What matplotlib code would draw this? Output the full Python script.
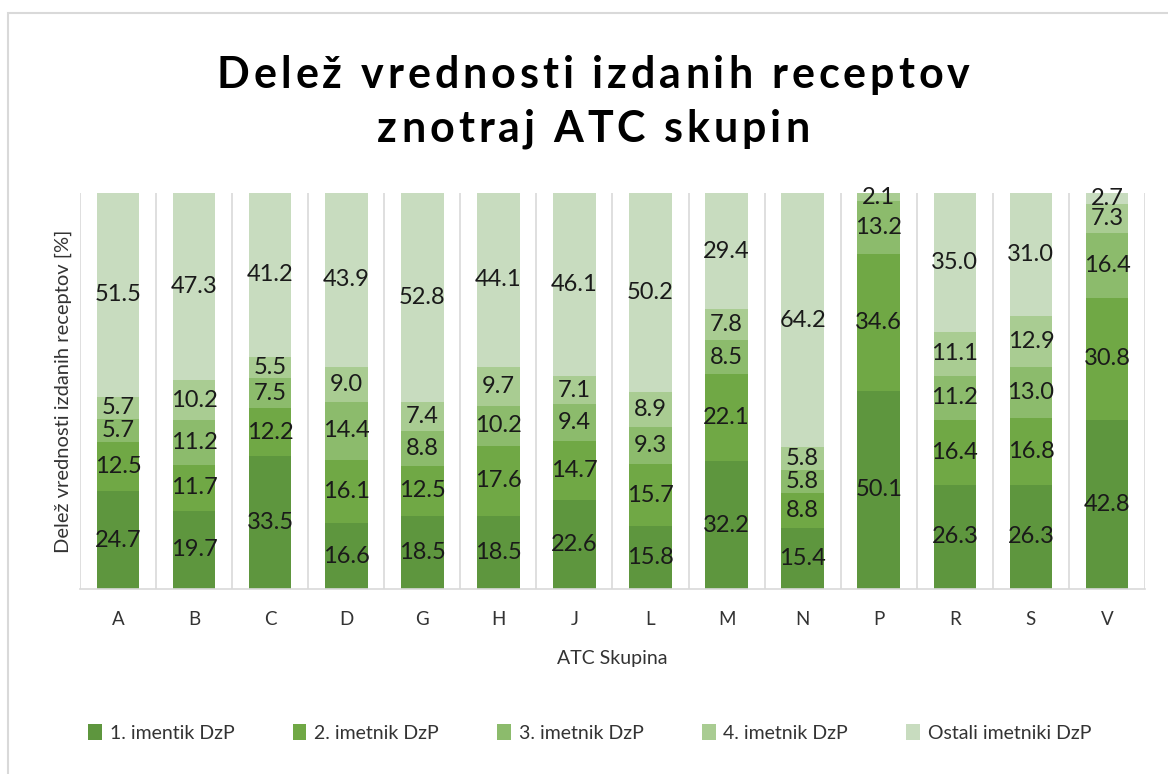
import numpy as np
import matplotlib
matplotlib.use('Agg')
import matplotlib.pyplot as plt
from matplotlib.patches import Rectangle

plt.rcParams['font.family'] = ['Lato', 'DejaVu Sans']

# --- data
groups = ['A', 'B', 'C', 'D', 'G', 'H', 'J', 'L', 'M', 'N', 'P', 'R', 'S', 'V']
holder1 = [24.7, 19.7, 33.5, 16.6, 18.5, 18.5, 22.6, 15.8, 32.2, 15.4, 50.1, 26.3, 26.3, 42.8]
holder2 = [12.5, 11.7, 12.2, 16.1, 12.5, 17.6, 14.7, 15.7, 22.1, 8.8, 34.6, 16.4, 16.8, 30.8]
holder3 = [5.7, 11.2, 7.5, 14.4, 8.8, 10.2, 9.4, 9.3, 8.5, 5.8, 13.2, 11.2, 13.0, 16.4]
holder4 = [5.7, 10.2, 5.5, 9.0, 7.4, 9.7, 7.1, 8.9, 7.8, 5.8, 2.1, 11.1, 12.9, 7.3]
others = [51.5, 47.3, 41.2, 43.9, 52.8, 44.1, 46.1, 50.2, 29.4, 64.2, 0.0, 35.0, 31.0, 2.7]

series = [holder1, holder2, holder3, holder4, others]
names = ['1. imentik DzP', '2. imetnik DzP', '3. imetnik DzP', '4. imetnik DzP', 'Ostali imetniki DzP']
colors = ['#5e963e', '#70a845', '#8cbb6c', '#a9cc92', '#c8dcbf']

title_lines = ['Delež vrednosti izdanih receptov', 'znotraj ATC skupin']


def tracked_text(fig, s, xc, y, track, **kw):
    """ draw a line of text centred on xc (figure coords) with extra letter spacing (px) """
    r = fig.canvas.get_renderer()
    fw = fig.bbox.width
    ref = fig.text(0, 0, '|', **kw)
    w_ref = ref.get_window_extent(r).width
    ref.remove()
    xs = []
    for i in range(len(s) + 1):
        t = fig.text(0, 0, s[:i] + '|', **kw)
        xs.append(t.get_window_extent(r).width - w_ref + i * track)
        t.remove()
    total = xs[-1] - track
    x0 = xc * fw - total / 2
    for ch, xi in zip(s, xs):
        if ch != ' ':
            fig.text((x0 + xi) / fw, y, ch, ha='left', va='center', **kw)


fig = plt.figure(figsize=(11.68, 7.74), dpi=100)
ax = fig.add_axes((80/1168, 1 - 589/774, (1145 - 80)/1168, (589 - 193)/774))

x = np.arange(len(groups))
bottom = np.zeros(len(groups))
for vals, name, c in zip(series, names, colors):
    vals = np.array(vals)
    ax.bar(x, vals, 0.56, bottom=bottom, color=c, label=name, zorder=2)
    for xi, b, v in zip(x, bottom, vals):
        if v > 0:
            ax.text(xi, b + v/2, f'{v:.1f}', ha='center', va='center',
                    fontsize=17, color='#1a1a1a', zorder=3)
    bottom += vals

ax.set_xlim(-0.5, len(groups) - 0.5)
ax.set_ylim(0, 100)

# --- category separators
for b in np.arange(-0.5, len(groups), 1.0):
    ax.axvline(b, color='#d9d9d9', lw=1.2, zorder=1)

for s in ['top', 'right', 'left']:
    ax.spines[s].set_visible(False)
ax.spines['bottom'].set_color('#d9d9d9')
ax.spines['bottom'].set_linewidth(1.2)
ax.set_yticks([])
ax.set_xticks(x)
ax.set_xticklabels(groups, fontsize=13.5, color='#333333')
ax.tick_params(axis='x', length=0, pad=16)

ax.set_xlabel('ATC Skupina', fontsize=14, color='#333333', labelpad=16)
ax.set_ylabel('Delež vrednosti izdanih receptov [%]', fontsize=14.5, color='#333333', labelpad=6)

# --- title with Excel-like letter spacing
tkw = dict(fontsize=31, fontweight='bold', color='black')
tracked_text(fig, title_lines[0], 0.508, 1 - 75/774, 4.0, **tkw)
tracked_text(fig, title_lines[1], 0.508, 1 - 129/774, 4.0, **tkw)

fig.legend(loc='center', bbox_to_anchor=(0.505, 1 - 733/774), ncol=5, frameon=False,
           fontsize=14, handlelength=0.7, handleheight=0.9, handletextpad=0.4,
           columnspacing=3.0, labelcolor='#333333')

# --- outer chart border (right/bottom edges are cut off in the reference)
fig.patches.append(Rectangle((8/1168, -0.1), 1.2, 1 - 13/774 + 0.1,
                             transform=fig.transFigure, fill=False,
                             edgecolor='#d9d9d9', lw=1.5))

fig.savefig('out.png', dpi=100)
